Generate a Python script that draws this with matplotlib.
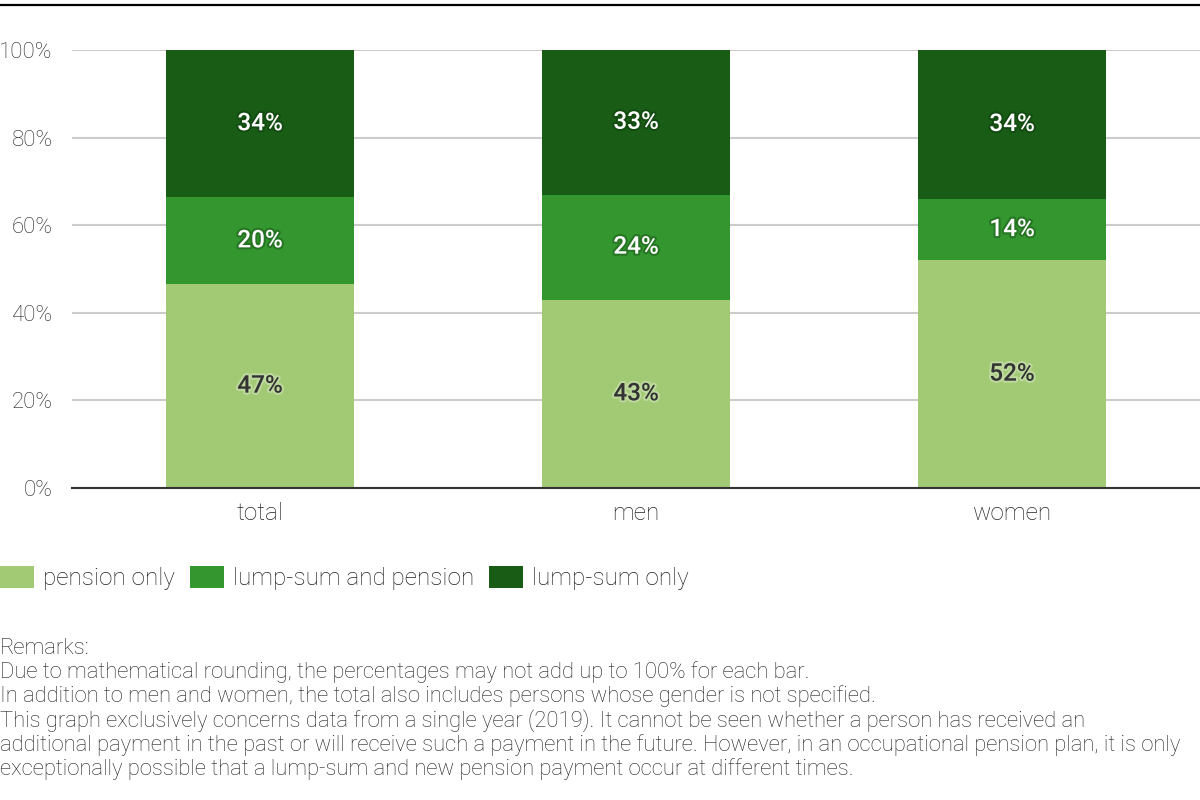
import matplotlib
matplotlib.use("Agg")
import matplotlib.pyplot as plt
import matplotlib.patheffects as pe
from matplotlib.patches import Patch
import numpy as np

plt.rcParams['font.family'] = ['Roboto', 'DejaVu Sans']

categories = ['total', 'men', 'women']
series = ['pension only', 'lump-sum and pension', 'lump-sum only']
values = {
    'pension only': [47, 43, 52],
    'lump-sum and pension': [20, 24, 14],
    'lump-sum only': [34, 33, 34],
}
colors = ['#a2c974', '#33962f', '#185c16']
label_colors = ['#333333', 'white', 'white']
yticks = [0, 0.2, 0.4, 0.6, 0.8, 1.0]
ytick_labels = ['0%', '20%', '40%', '60%', '80%', '100%']
remarks = [
    'Remarks:',
    'Due to mathematical rounding, the percentages may not add up to 100% for each bar.',
    'In addition to men and women, the total also includes persons whose gender is not specified.',
    'This graph exclusively concerns data from a single year (2019). It cannot be seen whether a person has received an',
    'additional payment in the past or will receive such a payment in the future. However, in an occupational pension plan, it is only',
    'exceptionally possible that a lump-sum and new pension payment occur at different times.',
]

fig = plt.figure(figsize=(12, 8), dpi=100)
ax = fig.add_axes([0.06, 0.39, 0.94, 0.5475])

x = np.arange(len(categories))
totals = np.sum([values[s] for s in series], axis=0)
bottom = np.zeros(len(categories))
for s, c, lc in zip(series, colors, label_colors):
    v = np.array(values[s])
    share = v / totals
    ax.bar(x, share, 0.5, bottom=bottom, color=c, zorder=2)
    for xi, b, h, raw in zip(x, bottom, share, v):
        if lc == 'white':
            fx = [pe.withStroke(linewidth=3, foreground='#0a2a08', alpha=0.3)]
        else:
            fx = [pe.withStroke(linewidth=3, foreground='white', alpha=0.3)]
        ax.text(xi, b + h / 2, f'{raw}%', ha='center', va='center', color=lc,
                fontsize=17.5, fontweight='medium', path_effects=fx, zorder=3)
    bottom += share

ax.set_xlim(-0.5, 2.5)
ax.set_ylim(0, 1)
ax.set_yticks(yticks)
ax.set_yticklabels(ytick_labels, fontsize=16, fontweight='light', color='#222222')
ax.set_xticks(x)
ax.set_xticklabels(categories, fontsize=17.5, fontweight='light', color='#222222')
ax.tick_params(axis='both', length=0)
ax.tick_params(axis='y', pad=14)
ax.tick_params(axis='x', pad=10)
ax.grid(axis='y', color='#cccccc', linewidth=1.5, zorder=0)
ax.set_axisbelow(True)
for sp in ['top', 'right', 'left']:
    ax.spines[sp].set_visible(False)
ax.spines['bottom'].set_color('#333333')
ax.spines['bottom'].set_linewidth(1.5)
ax.spines['bottom'].set_zorder(4)

# top rule
fig.add_artist(plt.Line2D([0, 1], [0.994, 0.994], color='black', linewidth=1.6))

handles = [Patch(facecolor=c, edgecolor='none', label=s) for s, c in zip(series, colors)]
leg = fig.legend(handles=handles, loc='center left', bbox_to_anchor=(0.0, 1 - 578 / 800),
                 ncol=3, frameon=False, borderpad=0, borderaxespad=0,
                 handlelength=1.4, handleheight=1.0, handletextpad=0.37,
                 columnspacing=0.62, prop={'size': 17.5, 'weight': 'light'})
for t in leg.get_texts():
    t.set_color('#222222')

for i, line in enumerate(remarks):
    fig.text(0.0, 1 - (648 + 24.2 * i) / 800, line, fontsize=15.8, fontweight='light',
             color='#222222', va='center', ha='left')

fig.savefig('out.png', dpi=100)
